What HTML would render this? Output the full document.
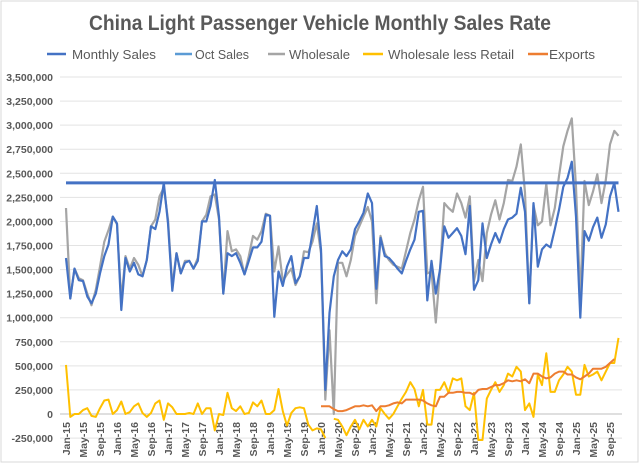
<!DOCTYPE html>
<html><head><meta charset="utf-8"><style>
body{margin:0;background:#fff;}
#c{position:relative;width:640px;height:465px;font-family:"Liberation Sans",sans-serif;}
</style></head><body>
<div id="c">
<svg id="s" width="640" height="465" xmlns="http://www.w3.org/2000/svg">
<rect x="1" y="1" width="637" height="461" fill="#fff" stroke="#d9d9d9"/>
<text x="89" y="30" font-size="21" font-weight="bold" fill="#595959" textLength="462" lengthAdjust="spacingAndGlyphs">China Light Passenger Vehicle Monthly Sales Rate</text>
<g id="legend" font-size="13" fill="#595959">
<g><line x1="47" y1="54" x2="66" y2="54" stroke="#4472c4" stroke-width="2.5"/><text x="72" y="59" textLength="84" lengthAdjust="spacingAndGlyphs">Monthly Sales</text></g>
<g><line x1="175" y1="54" x2="192" y2="54" stroke="#5b9bd5" stroke-width="2.5"/><text x="195" y="59" textLength="54" lengthAdjust="spacingAndGlyphs">Oct Sales</text></g>
<g><line x1="268" y1="54" x2="285" y2="54" stroke="#a5a5a5" stroke-width="2.5"/><text x="289" y="59" textLength="61" lengthAdjust="spacingAndGlyphs">Wholesale</text></g>
<g><line x1="363" y1="54" x2="383" y2="54" stroke="#ffc000" stroke-width="2.5"/><text x="388" y="59" textLength="126" lengthAdjust="spacingAndGlyphs">Wholesale less Retail</text></g>
<g><line x1="528" y1="54" x2="548" y2="54" stroke="#ed7d31" stroke-width="2.5"/><text x="549" y="59" textLength="46" lengthAdjust="spacingAndGlyphs">Exports</text></g>
</g>
<g id="grid"></g><g id="yl"></g><g id="xl"></g><g id="series"></g>
</svg>
</div>
<script>
const yTicks=[-250000,0,250000,500000,750000,1000000,1250000,1500000,1750000,2000000,2250000,2500000,2750000,3000000,3250000,3500000];
const monthNames=["Jan","Feb","Mar","Apr","May","Jun","Jul","Aug","Sep","Oct","Nov","Dec"];
const monthlySales=[1620,1200,1510,1390,1380,1220,1150,1250,1460,1640,1760,2050,1980,1080,1620,1480,1570,1450,1430,1600,1950,1920,2100,2400,1980,1280,1670,1460,1570,1590,1510,1590,2000,2000,2160,2430,2050,1250,1670,1640,1670,1570,1450,1590,1730,1730,1790,2070,2060,1010,1480,1330,1530,1640,1360,1430,1620,1620,1880,2160,1710,250,1050,1430,1600,1690,1640,1710,1920,2000,2090,2290,2190,1300,1830,1640,1620,1570,1510,1460,1590,1710,1810,2100,2110,1180,1590,1250,1500,1950,1830,1880,1930,1850,1660,2160,1290,1390,1980,1620,1760,1880,1780,1920,2020,2040,2080,2350,2100,1150,2190,1530,1710,1760,1730,1920,2120,2360,2450,2620,2050,1000,1900,1800,1940,2040,1830,1970,2260,2400,2100];
const octSales=monthlySales.map(()=>2400);
const wholesale=[2140,1200,1510,1410,1390,1250,1130,1290,1530,1790,1910,2050,1970,1180,1640,1510,1620,1550,1430,1600,1950,2020,2260,2350,2020,1330,1670,1460,1590,1590,1510,1620,2000,2070,2260,2280,2020,1250,1900,1690,1710,1640,1450,1640,1850,1810,1900,2080,2060,1480,1740,1380,1450,1510,1340,1430,1690,1680,1790,1980,1670,150,870,0,1570,1570,1430,1600,1850,1950,2050,2150,2000,1150,1850,1670,1600,1550,1530,1510,1690,1880,2020,2220,2360,1460,1480,950,1500,2190,2140,2100,2290,2190,2040,2260,1380,1600,1380,1880,2070,2220,2020,2190,2430,2420,2570,2800,2300,1150,2170,1960,2000,2390,1960,2140,2470,2780,2940,3070,2360,1190,2420,2170,2310,2490,2190,2430,2800,2940,2890];
const wholesaleLessRetail=[510,-30,0,0,40,60,-20,-30,60,140,150,0,40,130,0,20,80,110,10,-30,10,110,140,-60,110,70,0,0,0,10,0,110,0,60,60,-170,0,-10,220,60,30,80,0,10,120,80,140,0,0,40,260,30,-120,10,60,70,60,-110,-170,-150,-160,-250,null,-50,-60,-130,-220,-130,-60,-160,-60,-130,-60,-130,60,0,-50,0,80,160,230,330,260,80,250,-110,-110,250,250,330,220,370,350,370,80,40,220,-270,-270,160,250,330,230,300,420,390,490,440,40,110,-30,410,300,630,230,230,350,410,490,440,200,200,510,390,410,440,350,440,530,530,790];
const exportsStart=60;
const exportsVals=[80,80,80,50,30,30,40,60,80,80,90,80,90,30,80,80,90,110,120,110,150,150,150,150,140,110,90,80,180,180,220,220,230,230,220,220,200,250,260,260,280,300,300,320,350,340,350,340,360,320,420,420,390,370,380,420,440,440,410,410,380,360,390,420,470,470,470,490,530,570];
const xTicks=[];for(let i=0;i<131;i+=4)xTicks.push(i);

const NS="http://www.w3.org/2000/svg";
const X0=66,DX=4.25,Y0=414,PX=24.07/250000;
const xs=i=>X0+DX*i, ys=v=>Y0-v*PX;
const mk=(t,a,p)=>{const e=document.createElementNS(NS,t);for(const k in a)e.setAttribute(k,a[k]);p.appendChild(e);return e;};
const grid=document.getElementById('grid'),yl=document.getElementById('yl'),xl=document.getElementById('xl'),ser=document.getElementById('series');
yTicks.forEach(v=>{
 const l=mk('line',{x1:60,x2:622,y1:ys(v),y2:ys(v),stroke:v===0?'#bfbfbf':'#e3e3e3','stroke-width':1},grid);
 
 
 const t=mk('text',{x:53,y:ys(v)+4,'text-anchor':'end','font-size':10.5,'font-weight':'bold',fill:'#595959'},yl);
 t.textContent=v.toLocaleString('en-US');
 
 
});
xTicks.forEach(i=>{
 const lab=monthNames[i%12]+'-'+(15+Math.floor(i/12));
 const x=xs(i);
 const t=mk('text',{x:0,y:0,'text-anchor':'end','font-size':10.5,'font-weight':'bold',fill:'#595959',transform:`translate(${x+4},422) rotate(-90)`},xl);
 t.textContent=lab;
 
 
});
function line(vals,start,color,w,name){
 let d='',pen=false;
 vals.forEach((v,k)=>{if(v===null){pen=false;return;}const i=start+k;d+=(pen?'L':'M')+xs(i).toFixed(1)+' '+ys(v*1000).toFixed(1);pen=true;});
 const p=mk('path',{d:d,fill:'none',stroke:color,'stroke-width':w,'stroke-linejoin':'round'},ser);
 
 
}
line(wholesale,0,'#a5a5a5',2.2,'wholesale-line');
line(monthlySales,0,'#4472c4',2.2,'monthly-sales-line');
line(octSales,0,'#4472c4',3,'oct-sales-line');
line(wholesaleLessRetail,0,'#ffc000',2,'wholesale-less-retail-line');
line(exportsVals,exportsStart,'#ed7d31',2,'exports-line');
</script>
</body></html>
